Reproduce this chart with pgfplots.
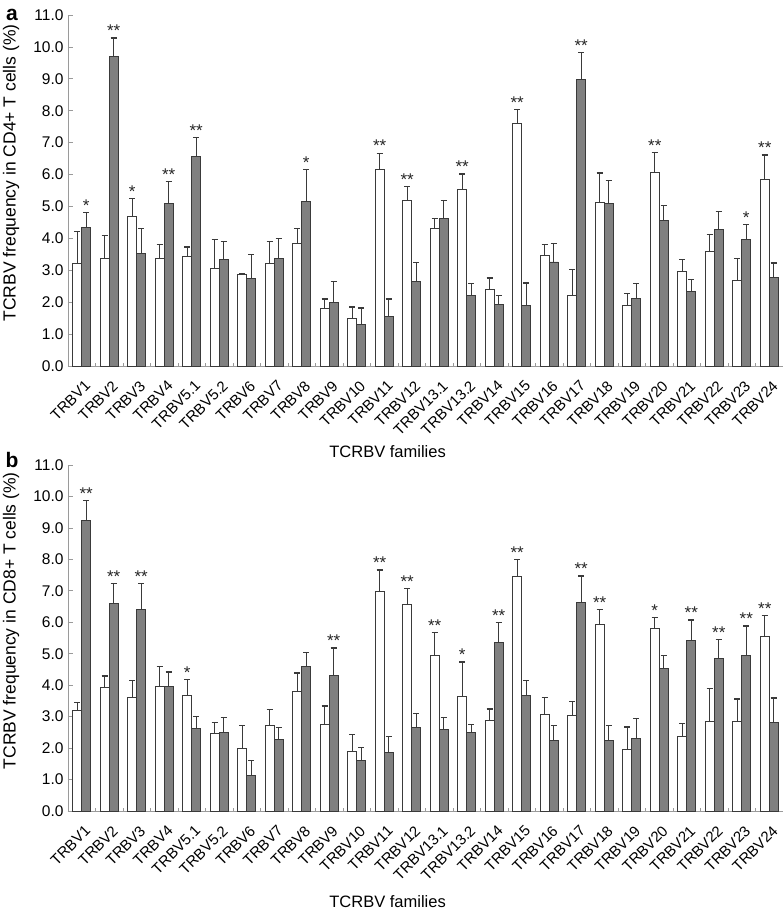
\documentclass[border=0pt]{standalone}
\usepackage{fontspec}
\setmainfont{Liberation Sans}
\usepackage{pgfplots}
\usepackage{pgfplotstable}
\pgfplotsset{compat=1.18}

\definecolor{barfill}{HTML}{808080}
\definecolor{edge}{HTML}{3A3A3A}
\definecolor{axisgray}{HTML}{9A9A9A}

% panel a: CD4+
\pgfplotstableread{
x W Wt G Gt
0 3.20 4.22 4.35 4.81
1 3.38 4.08 9.70 10.28
2 4.68 5.24 3.54 4.31
3 3.38 3.80 5.10 5.77
4 3.42 3.73 6.56 7.15
5 3.05 3.97 3.35 3.90
6 2.87 2.91 2.74 3.50
7 3.20 3.90 3.37 4.00
8 3.85 4.31 5.17 6.15
9 1.80 2.10 2.00 2.64
10 1.50 1.85 1.31 1.82
11 6.15 6.67 1.55 2.10
12 5.20 5.62 2.64 3.25
13 4.30 4.63 4.63 5.18
14 5.54 6.02 2.22 2.59
15 2.40 2.76 1.94 2.22
16 7.61 8.04 1.91 2.60
17 3.47 3.81 3.26 3.84
18 2.20 3.02 8.98 9.83
19 5.14 6.05 5.10 5.82
20 1.91 2.26 2.11 2.58
21 6.07 6.68 4.56 5.02
22 2.97 3.33 2.33 2.72
23 3.60 4.12 4.27 4.85
24 2.69 3.36 3.97 4.44
25 5.84 6.61 2.77 3.23
}\dataA

% panel b: CD8+
\pgfplotstableread{
x W Wt G Gt
0 3.19 3.45 9.24 9.86
1 3.93 4.29 6.61 7.24
2 3.60 4.16 6.42 7.24
3 3.95 4.60 3.97 4.42
4 3.66 4.18 2.63 3.01
5 2.47 2.82 2.49 2.98
6 2.00 2.72 1.14 1.61
7 2.71 3.23 2.28 2.65
8 3.79 4.39 4.60 5.05
9 2.76 3.34 4.32 5.18
10 1.89 2.42 1.60 2.02
11 6.97 7.66 1.85 2.37
12 6.58 7.08 2.67 3.11
13 4.95 5.68 2.60 2.97
14 3.63 4.74 2.49 2.75
15 2.89 3.24 5.35 6.00
16 7.45 8.00 3.68 4.16
17 3.07 3.61 2.25 2.72
18 3.03 3.47 6.64 7.47
19 5.93 6.41 2.23 2.72
20 1.97 2.67 2.32 2.95
21 5.79 6.15 4.53 4.95
22 2.36 2.78 5.43 6.07
23 2.86 3.89 4.85 5.44
24 2.86 3.56 4.94 5.88
25 5.55 6.21 2.81 3.59
}\dataB

\pgfplotsset{
  panel/.style={
    scale only axis, width=715pt,
    xmin=-0.5, xmax=25.5, ymin=0, ymax=11,
    axis x line*=bottom, axis y line*=left,
    axis line style={axisgray, line width=0.8pt},
    tick style={axisgray, line width=0.8pt},
    tick align=inside,
    major tick length=5pt, minor tick length=3.5pt,
    ytick={0,1,...,11},
    /pgf/number format/assume math mode=true,
    yticklabel style={/pgf/number format/fixed, /pgf/number format/fixed zerofill,
      /pgf/number format/precision=1, font=\fontsize{15.5}{15.5}\selectfont, xshift=-1pt},
    xtick={0,...,25},
    xticklabels={TRBV1,TRBV2,TRBV3,TRBV4,TRBV5.1,TRBV5.2,TRBV6,TRBV7,TRBV8,TRBV9,TRBV10,TRBV11,TRBV12,TRBV13.1,TRBV13.2,TRBV14,TRBV15,TRBV16,TRBV17,TRBV18,TRBV19,TRBV20,TRBV21,TRBV22,TRBV23,TRBV24},
    major x tick style={draw=none},
    minor xtick={0.5,1.5,...,24.5},
    x tick label style={rotate=45, anchor=north east, font=\fontsize{15}{15}\selectfont, inner sep=1pt, xshift=-7pt, yshift=-10pt},
    xlabel={TCRBV families},
    xlabel style={at={(axis description cs:0.447,0)}, anchor=center, font=\fontsize{16.5}{16.5}\selectfont},
    ylabel style={at={(axis description cs:-0.0797,0.55)}, anchor=center, font=\fontsize{17.5}{17.5}\selectfont},
    clip=false,
  },
  errs/.style={error bars/.cd, y dir=plus, y explicit,
    error bar style={edge, line width=1.2pt},
    error mark options={rotate=90, mark size=3.2pt, edge, line width=1.2pt}},
  wbar/.style={ybar, bar width=9pt, bar shift=0pt, fill=white, draw=edge, line width=0.9pt, errs},
  gbar/.style={ybar, bar width=9pt, bar shift=0pt, fill=barfill, draw=edge, line width=0.9pt, errs},
  stars/.style={only marks, mark=none, point meta=explicit symbolic,
    nodes near coords, nodes near coords style={font=\fontsize{17}{17}\selectfont, anchor=south, inner sep=1pt, text=black!85}},
}

\begin{document}
\begin{tikzpicture}
\useasboundingbox (-68pt,-548pt) rectangle (716pt,366pt);

\begin{axis}[panel, height=351pt, at={(0pt,0pt)}, anchor=south west,
  xlabel style={yshift=-86pt},
  ylabel={TCRBV frequency in CD4+ T cells (\%)}]
\addplot[wbar] table[x expr=\thisrow{x}-0.163636, y=W, y error expr=\thisrow{Wt}-\thisrow{W}] {\dataA};
\addplot[gbar] table[x expr=\thisrow{x}+0.163636, y=G, y error expr=\thisrow{Gt}-\thisrow{G}] {\dataA};
\addplot[stars, x filter/.expression={x+0.163636}] coordinates {
 (0,4.81) [*] (1,10.28) [**] (3,5.77) [**] (4,7.15) [**] (8,6.15) [*] (18,9.83) [**] (24,4.44) [*]};
\addplot[stars, x filter/.expression={x-0.163636}] coordinates {
 (2,5.24) [*] (11,6.67) [**] (12,5.62) [**] (14,6.02) [**] (16,8.04) [**] (21,6.68) [**] (25,6.61) [**]};
\end{axis}

\begin{axis}[panel, height=346pt, at={(0pt,-445pt)}, anchor=south west,
  xlabel style={yshift=-91pt},
  ylabel={TCRBV frequency in CD8+ T cells (\%)}]
\addplot[wbar] table[x expr=\thisrow{x}-0.163636, y=W, y error expr=\thisrow{Wt}-\thisrow{W}] {\dataB};
\addplot[gbar] table[x expr=\thisrow{x}+0.163636, y=G, y error expr=\thisrow{Gt}-\thisrow{G}] {\dataB};
\addplot[stars, x filter/.expression={x+0.163636}] coordinates {
 (0,9.86) [**] (1,7.24) [**] (2,7.24) [**] (9,5.18) [**] (15,6.00) [**] (18,7.47) [**] (22,6.07) [**] (23,5.44) [**] (24,5.88) [**]};
\addplot[stars, x filter/.expression={x-0.163636}] coordinates {
 (4,4.18) [*] (11,7.66) [**] (12,7.08) [**] (13,5.68) [**] (14,4.74) [*] (16,8.00) [**] (19,6.41) [**] (21,6.15) [*] (25,6.21) [**]};
\end{axis}

\node[font=\bfseries\fontsize{21}{21}\selectfont] at (-56pt,351pt) {a};
\node[font=\bfseries\fontsize{21}{21}\selectfont] at (-56pt,-94pt) {b};
\end{tikzpicture}
\end{document}
